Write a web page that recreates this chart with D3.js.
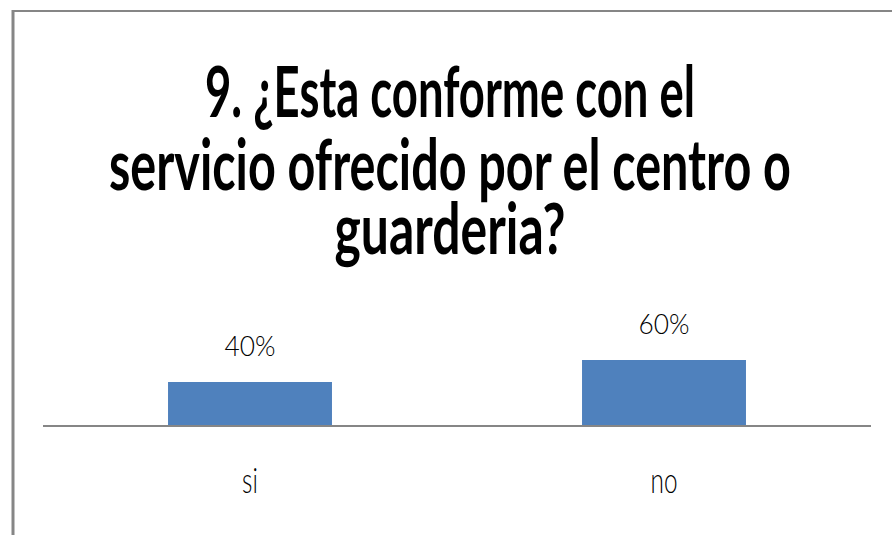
<!doctype html>
<html>
<head>
  <meta charset="utf-8">
  <title>9. ¿Esta conforme con el servicio?</title>
  <script src="https://d3js.org/d3.v7.min.js"></script>
  <style>
    body { margin: 0; background: #fff; }
    text { font-family: Lato, "Open Sans", sans-serif; fill: #000; }
  </style>
</head>
<body>
<div id="chart"></div>
<script>
  // data
  var categories = ["si", "no"];
  var values = [0.40, 0.60];
  var valueLabels = ["40%", "60%"];
  var titleLines = ["9. ¿Esta conforme con el", "servicio ofrecido por el centro o", "guarderia?"];

  var width = 892, height = 535;

  var svg = d3.select("#chart")
    .append("svg")
      .attr("width", width)
      .attr("height", height);

  // chart area frame (only top and left edges show)
  svg.append("line")
    .attr("x1", 13).attr("x2", 13).attr("y1", 10).attr("y2", height)
    .style("stroke", "#868686").style("stroke-width", 3);
  svg.append("line")
    .attr("x1", 12).attr("x2", width).attr("y1", 11).attr("y2", 11)
    .style("stroke", "#868686").style("stroke-width", 2);

  // scales
  var x = d3.scaleBand()
    .domain(categories)
    .range([43, 871])
    .paddingInner(0.604)
    .paddingOuter(0.302);

  var y = d3.scaleLinear()
    .domain([0, 0.6])
    .range([426, 360]);

  // squeeze text horizontally to a target width (the picture is narrowed)
  function fit(sel, w) {
    sel.each(function(d, i) {
      var t = d3.select(this);
      var len = this.getComputedTextLength();
      var target = typeof w === "function" ? w(d, i) : w;
      t.attr("transform", "translate(" + t.attr("data-x") + "," + t.attr("data-y") + ") scale(" + (target / len) + ",1)");
    });
  }

  // title
  var titleY = [117, 190, 254];
  var titleW = [490, 682, 231];
  var tt = svg.append("g").selectAll("text")
    .data(titleLines)
    .enter()
    .append("text")
      .attr("data-x", 450)
      .attr("data-y", function(d, i) { return titleY[i]; })
      .style("text-anchor", "middle")
      .style("font-weight", "bold")
      .style("font-size", "70px")
      .text(function(d) { return d; });
  fit(tt, function(d, i) { return titleW[i]; });

  // bars
  svg.append("g")
    .selectAll("rect")
    .data(values)
    .enter()
    .append("rect")
      .attr("x", function(d, i) { return x(categories[i]); })
      .attr("y", function(d) { return y(d); })
      .attr("width", x.bandwidth())
      .attr("height", function(d) { return y(0) - y(d); })
      .style("fill", "#4F81BD");

  // axis line
  svg.append("line")
    .attr("x1", x.range()[0]).attr("x2", x.range()[1])
    .attr("y1", y(0)).attr("y2", y(0))
    .style("stroke", "#868686").style("stroke-width", 2);

  // value labels
  var vl = svg.append("g")
    .selectAll("text")
    .data(values)
    .enter()
    .append("text")
      .attr("data-x", function(d, i) { return x(categories[i]) + x.bandwidth() / 2; })
      .attr("data-y", function(d) { return y(d) - 26; })
      .style("text-anchor", "middle")
      .style("font-size", "27px")
      .style("font-weight", 300)
      .text(function(d, i) { return valueLabels[i]; });
  fit(vl, 51);

  // category labels
  var cl = svg.append("g")
    .selectAll("text")
    .data(categories)
    .enter()
    .append("text")
      .attr("data-x", function(d) { return x(d) + x.bandwidth() / 2; })
      .attr("data-y", 493)
      .style("text-anchor", "middle")
      .style("font-size", "35px")
      .style("font-weight", 300)
      .text(function(d) { return d; });
  var kc = 27 / cl.nodes()[1].getComputedTextLength();
  cl.attr("transform", function() {
    return "translate(" + this.getAttribute("data-x") + "," + this.getAttribute("data-y") + ") scale(" + kc + ",1)";
  });
</script>
</body>
</html>
